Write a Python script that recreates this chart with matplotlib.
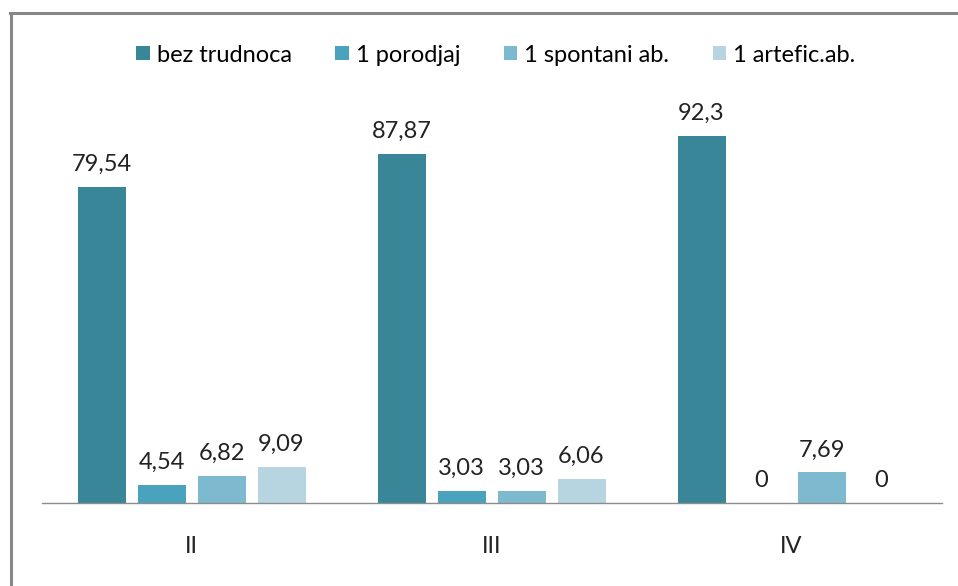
import matplotlib
matplotlib.use("Agg")
import matplotlib.pyplot as plt
from matplotlib.lines import Line2D
import numpy as np

categories = ["II", "III", "IV"]
series_names = ["bez trudnoca", "1 porodjaj", "1 spontani ab.", "1 artefic.ab."]
bez_trudnoca = [79.54, 87.87, 92.3]
porodjaj = [4.54, 3.03, 0]
spontani = [6.82, 3.03, 7.69]
artefic = [9.09, 6.06, 0]
label_text = [["79,54", "87,87", "92,3"],
              ["4,54", "3,03", "0"],
              ["6,82", "3,03", "7,69"],
              ["9,09", "6,06", "0"]]
colors = ["#3A8699", "#4AA3BC", "#7EBACF", "#B7D5E0"]

plt.rcParams['font.family'] = ['Lato', 'DejaVu Sans']
FS = 17

W, H = 958, 586
fig = plt.figure(figsize=(W / 100, H / 100), dpi=100)
ax = fig.add_axes([41.5 / W, (H - 503) / H, 900 / W, 397.3 / H])

x = np.arange(len(categories))
width = 0.16
offsets = [-0.3, -0.1, 0.1, 0.3]
all_series = [bez_trudnoca, porodjaj, spontani, artefic]
handles = []
for i, (vals, name, c) in enumerate(zip(all_series, series_names, colors)):
    bars = ax.bar(x + offsets[i], vals, width, color=c, label=name, zorder=2)
    handles.append(bars)
    for j, b in enumerate(bars):
        ax.annotate(label_text[i][j], (b.get_x() + b.get_width() / 2, b.get_height()),
                    xytext=(0, 11.5), textcoords="offset points", ha="center", va="baseline",
                    fontsize=FS, color="#222222")

ax.set_xlim(-0.5, 2.5)
ax.set_ylim(0, 100)
ax.set_xticks(x)
ax.set_xticklabels(categories, fontsize=FS, color="#222222")
ax.tick_params(axis='x', length=0, pad=24)
ax.set_yticks([])
for s in ["top", "right", "left"]:
    ax.spines[s].set_visible(False)
ax.spines["bottom"].set_color("#8c8c8c")
ax.spines["bottom"].set_linewidth(1.0)

fig.legend(handles=handles, labels=series_names, loc="center", ncol=4,
           bbox_to_anchor=(496 / W, 1 - 55 / H), frameon=False, fontsize=FS,
           handlelength=0.56, handleheight=0.56, handletextpad=0.3, columnspacing=1.85)

# outer border (left and top)
fig.add_artist(Line2D([11 / W, 11 / W], [0, 1 - 13 / H], transform=fig.transFigure,
                      color="#878787", linewidth=2.2))
fig.add_artist(Line2D([10 / W, 1], [1 - 13 / H, 1 - 13 / H], transform=fig.transFigure,
                      color="#878787", linewidth=2.2))

fig.savefig("out.png", dpi=100)
